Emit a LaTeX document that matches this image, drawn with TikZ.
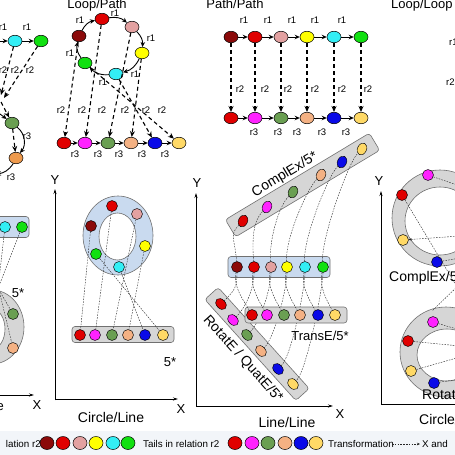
\documentclass[tikz,border=0pt]{standalone}
\usepackage{fontspec}
\setmainfont{Liberation Sans}
\usetikzlibrary{arrows.meta,shapes.geometric}
\definecolor{cDR}{HTML}{8B0A0A}
\definecolor{cR}{HTML}{E00000}
\definecolor{cPk}{HTML}{E3A1A1}
\definecolor{cY}{HTML}{FFFF00}
\definecolor{cC}{HTML}{33EEF5}
\definecolor{cG}{HTML}{11E011}
\definecolor{cM}{HTML}{FF22FF}
\definecolor{cDG}{HTML}{6A9F52}
\definecolor{cP}{HTML}{F4B183}
\definecolor{cB}{HTML}{0A0AE8}
\definecolor{cLY}{HTML}{FFD966}
\definecolor{cO}{HTML}{EE9A4D}
\definecolor{ringB}{HTML}{C9DAEF}
\definecolor{ringG}{HTML}{D6D6D6}
\definecolor{edgeG}{HTML}{707070}
\definecolor{legbg}{HTML}{F2F5F9}
\tikzset{
  nd/.style={ellipse,draw=black,line width=0.5pt,minimum width=14pt,minimum height=11.5pt,inner sep=0pt},
  cn/.style={circle,draw=black,line width=0.45pt,minimum size=11pt,inner sep=0pt},
  enx/.style={ellipse,draw=black,line width=0.45pt,minimum width=9pt,minimum height=12.5pt,inner sep=0pt,rotate=-25},
  enr/.style={ellipse,draw=black,line width=0.45pt,minimum width=12.5pt,minimum height=9pt,inner sep=0pt,rotate=-48},
  lgc/.style={ellipse,draw=black,line width=0.5pt,minimum width=14pt,minimum height=13pt,inner sep=0pt},
  lab/.style={font=\fontsize{9.5}{10}\selectfont,inner sep=0pt},
  ttl/.style={font=\fontsize{13}{14}\selectfont,inner sep=0pt},
  big/.style={font=\fontsize{14}{15}\selectfont,inner sep=0pt},
  leg/.style={font=\fontsize{9.8}{10}\selectfont,inner sep=0pt},
  arr/.style={-{Stealth[length=5pt,width=4.5pt]},line width=0.9pt},
  darr/.style={-{Stealth[length=6pt,width=5pt]},line width=1.1pt,dash pattern=on 4pt off 3pt},
  tr/.style={line width=0.4pt,dash pattern=on 1.6pt off 1.2pt,draw=black!85},
  trh/.style={tr,-{Stealth[length=3pt,width=2.5pt]}},
  axis/.style={-{Stealth[length=5pt,width=3pt]},line width=0.8pt},
  boxB/.style={draw=edgeG,fill=ringB,rounded corners=3pt,line width=0.6pt,inner sep=0pt},
  boxG/.style={draw=edgeG,fill=ringG,rounded corners=3pt,line width=0.6pt,inner sep=0pt},
  ringd/.style={draw=edgeG,line width=0.6pt,even odd rule}
}
\begin{document}
\begin{tikzpicture}[x=1pt,y=-1pt]
\useasboundingbox (0,0) rectangle (455,455);
\clip (0,0) rectangle (455,455);
\fill[white] (0,0) rectangle (455,455);
\fill[legbg] (0,431) rectangle (455,455);

% ===== top-left partial panel
\node[nd,fill=cC] (a5) at (15,41) {};
\node[nd,fill=cG] (a6) at (41,41) {};
\coordinate (a4) at (-4,41);
\draw[arr] (a4) -- (a5);
\draw[arr] (a5) -- (a6);
\node[lab] at (3,27) {r1};
\node[lab] at (27,27) {r1};
\coordinate (a7) at (1,95);
\coordinate (a8) at (4,98);
\draw[darr] (a5) -- (a7);
\draw[darr] (a6) -- (a8);
\node[lab] at (3,70) {r2};
\node[lab] at (15,70) {r2};
\node[lab] at (30,70) {r2};
\node[nd,fill=cDG] (b3) at (12,123) {};
\node[nd,fill=cO] (b4) at (16,158) {};
\coordinate (b2) at (-4,111);
\draw[arr] (b2) -- (b3);
\coordinate (a9) at (1,102);
\draw[darr] (a9) -- (b3);
\draw[darr] (b3) -- (b4);
\draw[arr] (b3) to[bend left=45] (b4);
\node[lab] at (27,136) {r3};
\coordinate (b5) at (-4,174);
\draw[arr] (b4) to[bend left=25] (b5);
\node[lab] at (11,177) {r3};

% ===== Loop/Path
\node[ttl] at (97,5) {Loop/Path};
\node[nd,fill=cDR] (l1) at (79,36) {};
\node[nd,fill=cR] (l2) at (102,19) {};
\node[nd,fill=cPk] (l3) at (132,27) {};
\node[nd,fill=cY] (l4) at (142,53) {};
\node[nd,fill=cC] (l5) at (116,74) {};
\node[nd,fill=cG] (l6) at (85,63) {};
\foreach \sa/\sb in {l1/l2,l2/l3,l3/l4,l4/l5,l5/l6,l6/l1}
  \draw[arr] (\sa) to[bend left=25] (\sb);
\node[lab] at (80,20) {r1};
\node[lab] at (115,13) {r1};
\node[lab] at (151,38) {r1};
\node[lab] at (135,74) {r1};
\node[lab] at (103,82) {r1};
\node[lab] at (70,53) {r1};
\node[nd,fill=cR] (p1) at (64,143) {};
\node[nd,fill=cM] (p2) at (85,143) {};
\node[nd,fill=cDG] (p3) at (108,143) {};
\node[nd,fill=cP] (p4) at (131,143) {};
\node[nd,fill=cB] (p5) at (155,143) {};
\node[nd,fill=cLY] (p6) at (179,143) {};
\foreach \sa/\sb in {p1/p2,p2/p3,p3/p4,p4/p5,p5/p6}
  \draw[arr] (\sa) -- (\sb);
\foreach \xx in {75,98,119,142,165} \node[lab] at (\xx,154) {r3};
\foreach \xx in {61,82,102,125,146,162} \node[lab] at (\xx,110) {r2};
\foreach \sa/\sb in {l1/p1,l2/p2,l3/p3,l4/p4,l5/p5,l6/p6}
  \draw[darr] (\sa) -- (\sb);

% ===== Path/Path
\node[ttl] at (235,4) {Path/Path};
\node[nd,fill=cDR] (h1) at (231,37) {};
\node[nd,fill=cR] (h2) at (255,37) {};
\node[nd,fill=cPk] (h3) at (281,37) {};
\node[nd,fill=cY] (h4) at (307,37) {};
\node[nd,fill=cC] (h5) at (334,37) {};
\node[nd,fill=cG] (h6) at (361,37) {};
\node[nd,fill=cR] (t1) at (231,118) {};
\node[nd,fill=cM] (t2) at (255,118) {};
\node[nd,fill=cDG] (t3) at (281,118) {};
\node[nd,fill=cP] (t4) at (307,118) {};
\node[nd,fill=cB] (t5) at (334,118) {};
\node[nd,fill=cLY] (t6) at (361,118) {};
\foreach \sa/\sb in {h1/h2,h2/h3,h3/h4,h4/h5,h5/h6,t1/t2,t2/t3,t3/t4,t4/t5,t5/t6}
  \draw[arr] (\sa) -- (\sb);
\foreach \sa/\sb in {h1/t1,h2/t2,h3/t3,h4/t4,h5/t5,h6/t6}
  \draw[darr] (\sa) -- (\sb);
\foreach \xx in {244,268,292,315,342} \node[lab] at (\xx,20) {r1};
\foreach \xx in {240,265,288,315,342,368} \node[lab] at (\xx,89) {r2};
\foreach \xx in {254,278,297,322,346} \node[lab] at (\xx,132) {r3};

% ===== Loop/Loop (partial)
\node[ttl,anchor=west] at (391,5) {Loop/Loop};
\node[lab,anchor=west] at (449,42) {r1};
\node[lab,anchor=west] at (446,82) {r2};

% ===== bottom-left partial panel
\node[boxB,minimum width=60pt,minimum height=21pt] (lbox) at (-1,227) {};
\node[cn,fill=cC] (e1) at (5,227) {};
\node[cn,fill=cG] (e2) at (22,227) {};
\filldraw[ringd,fill=ringG] (-8,327) ellipse (32 and 37) (-8,329) ellipse (13 and 20);
\node[cn,fill=cDG] (e3) at (13,314) {};
\node[cn,fill=cP] (e4) at (13,348) {};
\coordinate (eq1) at (-3,291);
\coordinate (eq2) at (-3,297);
\coordinate (eq3) at (-1,290);
\draw[tr] (e2) -- (eq1);
\draw[tr] (e1) -- (eq2);
\draw[tr] (eq3) -- (e3);
\draw[tr] (eq3) -- (e4);
\node[ttl] at (18,293) {5*};
\coordinate (lx0) at (-5,395);
\coordinate (lx1) at (34,395);
\draw[axis] (lx0) -- (lx1);
\node[ttl] at (37,405) {X};
\node[ttl,anchor=east] at (4,407) {e};

% ===== Circle/Line
\coordinate (cy0) at (55,400);
\coordinate (cy1) at (55,189);
\coordinate (cx1) at (178,399);
\draw[axis] (cy0) -- (cy1);
\draw[axis] (cy0) |- (cx1);
\node[ttl] at (55,180) {Y};
\node[ttl] at (181,409) {X};
\node[big] at (111,417) {Circle/Line};
\filldraw[ringd,fill=ringB] (118,235.5) ellipse (35 and 39.5) (117.5,236.5) ellipse (18.5 and 23.5);
\node[cn,fill=cDR] (o1) at (91,226) {};
\node[cn,fill=cR] (o2) at (112,206) {};
\node[cn,fill=cPk] (o3) at (137,214) {};
\node[cn,fill=cY] (o4) at (145,246) {};
\node[cn,fill=cC] (o5) at (119,267) {};
\node[cn,fill=cG] (o6) at (96,254) {};
\node[boxG,minimum width=102pt,minimum height=16pt] (cbox) at (123,334.5) {};
\node[cn,fill=cR] (q1) at (80,335) {};
\node[cn,fill=cM] (q2) at (95,335) {};
\node[cn,fill=cDG] (q3) at (112,335) {};
\node[cn,fill=cP] (q4) at (128,335) {};
\node[cn,fill=cB] (q5) at (145,335) {};
\node[cn,fill=cLY] (q6) at (163,335) {};
\foreach \sa/\sb in {o1/q1,o2/q2,o3/q3,o4/q4,o5/q5,o6/q6}
  \draw[tr] (\sa) -- (\sb);
\node[ttl] at (170,362) {5*};

% ===== Line/Line
\coordinate (ly0) at (196,406);
\coordinate (ly1) at (196,193);
\coordinate (lx2) at (333,406);
\draw[axis] (ly0) -- (ly1);
\draw[axis] (ly0) -- (lx2);
\node[ttl] at (197,183) {Y};
\node[ttl] at (340,414) {X};
\node[big] at (287,422) {Line/Line};
\node[boxB,minimum width=102pt,minimum height=21pt] (mbox) at (279,267) {};
\node[boxG,rotate=31,minimum width=168pt,minimum height=20pt] (xbox) at (302.5,185) {};
\node[boxG,rotate=-48,minimum width=136pt,minimum height=18pt] (vbox) at (257,344) {};
\node[cn,fill=cDR] (m1) at (237,267) {};
\node[cn,fill=cR] (m2) at (254,267) {};
\node[cn,fill=cPk] (m3) at (271,267) {};
\node[cn,fill=cY] (m4) at (287,267) {};
\node[cn,fill=cC] (m5) at (305,267) {};
\node[cn,fill=cG] (m6) at (323,267) {};
\node[enx,fill=cR] (x1) at (243,221) {};
\node[enx,fill=cM] (x2) at (267,207) {};
\node[enx,fill=cDG] (x3) at (293,192) {};
\node[enx,fill=cP] (x4) at (321,175) {};
\node[enx,fill=cB] (x5) at (342,162) {};
\node[enx,fill=cLY] (x6) at (362,149) {};
\node[enr,fill=cR] (v1) at (221,304) {};
\node[enr,fill=cM] (v2) at (233,320) {};
\node[enr,fill=cDG] (v3) at (247,335) {};
\node[enr,fill=cP] (v4) at (261,351) {};
\node[enr,fill=cB] (v5) at (278,369) {};
\node[enr,fill=cLY] (v6) at (293,384) {};
\foreach \sa/\sb in {m1/v1,m2/v2,m3/v3,m4/v4,m5/v5,m6/v6}
  \draw[tr] (\sa) .. controls +(0,20) and +(14,-14) .. (\sb);
\node[boxG,minimum width=102pt,minimum height=16pt] (sbox) at (296,315) {};
\node[cn,fill=cR] (s1) at (252,315) {};
\node[cn,fill=cM] (s2) at (267,315) {};
\node[cn,fill=cDG] (s3) at (284,315) {};
\node[cn,fill=cP] (s4) at (300,315) {};
\node[cn,fill=cB] (s5) at (318,315) {};
\node[cn,fill=cLY] (s6) at (335,315) {};
\foreach \sa/\sb in {m1/s1,m2/s2,m3/s3,m4/s4,m5/s5,m6/s6}
  \draw[tr] (\sa) .. controls +(-4,20) and +(-8,-14) .. (\sb);
\foreach \sa/\sb in {m1/x1,m2/x2,m3/x3,m4/x4,m5/x5,m6/x6}
  \draw[tr] (\sa) .. controls +(-2,-28) and +(-14,14) .. (\sb);
\node[big,rotate=31] at (285,175) {ComplEx/5*};
\node[ttl] at (320,336) {TransE/5*};
\node[big,rotate=-48] at (243,359) {RotatE / QuatE/5*};

% ===== Circle/Circle (partial)
\coordinate (ry0) at (381,404);
\coordinate (ry1) at (381,191);
\coordinate (rx1) at (462,404);
\draw[axis] (ry0) -- (ry1);
\draw[line width=0.8pt] (ry0) -- (rx1);
\node[ttl] at (379,181) {Y};
\node[big,anchor=west] at (419,419) {Circle/Circle};
\filldraw[ringd,fill=ringG] (440,218) ellipse (48 and 48) (440,221) ellipse (35 and 34);
\filldraw[ringd,fill=ringG] (446,352) ellipse (46 and 45) (447,355) ellipse (30 and 26);
\node[cn,fill=cM] (u1) at (428,175) {};
\node[cn,fill=cR] (u2) at (402,195) {};
\node[cn,fill=cLY] (u3) at (403,240) {};
\node[cn,fill=cB] (u4) at (437,262) {};
\node[cn,fill=cM] (w1) at (433,322) {};
\node[cn,fill=cR] (w2) at (408,341) {};
\node[cn,fill=cLY] (w3) at (411,371) {};
\node[cn,fill=cB] (w4) at (434,383) {};
\coordinate (k1) at (460,186);
\coordinate (k2) at (460,292);
\coordinate (k3) at (460,236);
\coordinate (k4) at (460,258);
\coordinate (k5) at (460,284);
\coordinate (k6) at (432,311);
\coordinate (k7) at (460,330);
\coordinate (k8) at (460,346);
\coordinate (k9) at (460,357);
\coordinate (k10) at (460,379);
\draw[tr] (u1) -- (k1);
\draw[tr] (u2) -- (k2);
\draw[trh] (k3) -- (u3);
\draw[tr] (u4) -- (k4);
\draw[tr] (k5) -- (k6);
\draw[tr] (w1) -- (k7);
\draw[tr] (w2) -- (k8);
\draw[tr] (w3) -- (k9);
\draw[tr] (w4) -- (k10);
\node[big,anchor=west] at (389,278) {ComplEx/5*};
\node[big,anchor=west] at (422,396) {RotatE / QuatE/5*};

% ===== legend
\node[leg,anchor=east] at (41,444) {lation r2};
\node[lgc,fill=cDR] (g1) at (47,443) {};
\node[lgc,fill=cR] (g2) at (63,443) {};
\node[lgc,fill=cPk] (g3) at (80,443) {};
\node[lgc,fill=cY] (g4) at (96,443) {};
\node[lgc,fill=cC] (g5) at (113,443) {};
\node[lgc,fill=cG] (g6) at (128,443) {};
\node[leg,anchor=west] at (143,444) {Tails in relation r2};
\node[lgc,fill=cR] (g7) at (235,443) {};
\node[lgc,fill=cM] (g8) at (252,443) {};
\node[lgc,fill=cDG] (g9) at (268,443) {};
\node[lgc,fill=cP] (g10) at (285,443) {};
\node[lgc,fill=cB] (g11) at (301,443) {};
\node[lgc,fill=cLY] (g12) at (316,443) {};
\node[leg,anchor=west] (tfl) at (328,444) {Transformation};
\coordinate (tf0) at (392,444);
\coordinate (tf1) at (420,444);
\draw[trh] (tf0) -- (tf1);
\node[leg,anchor=west] at (422,444) {X and};
\end{tikzpicture}
\end{document}
